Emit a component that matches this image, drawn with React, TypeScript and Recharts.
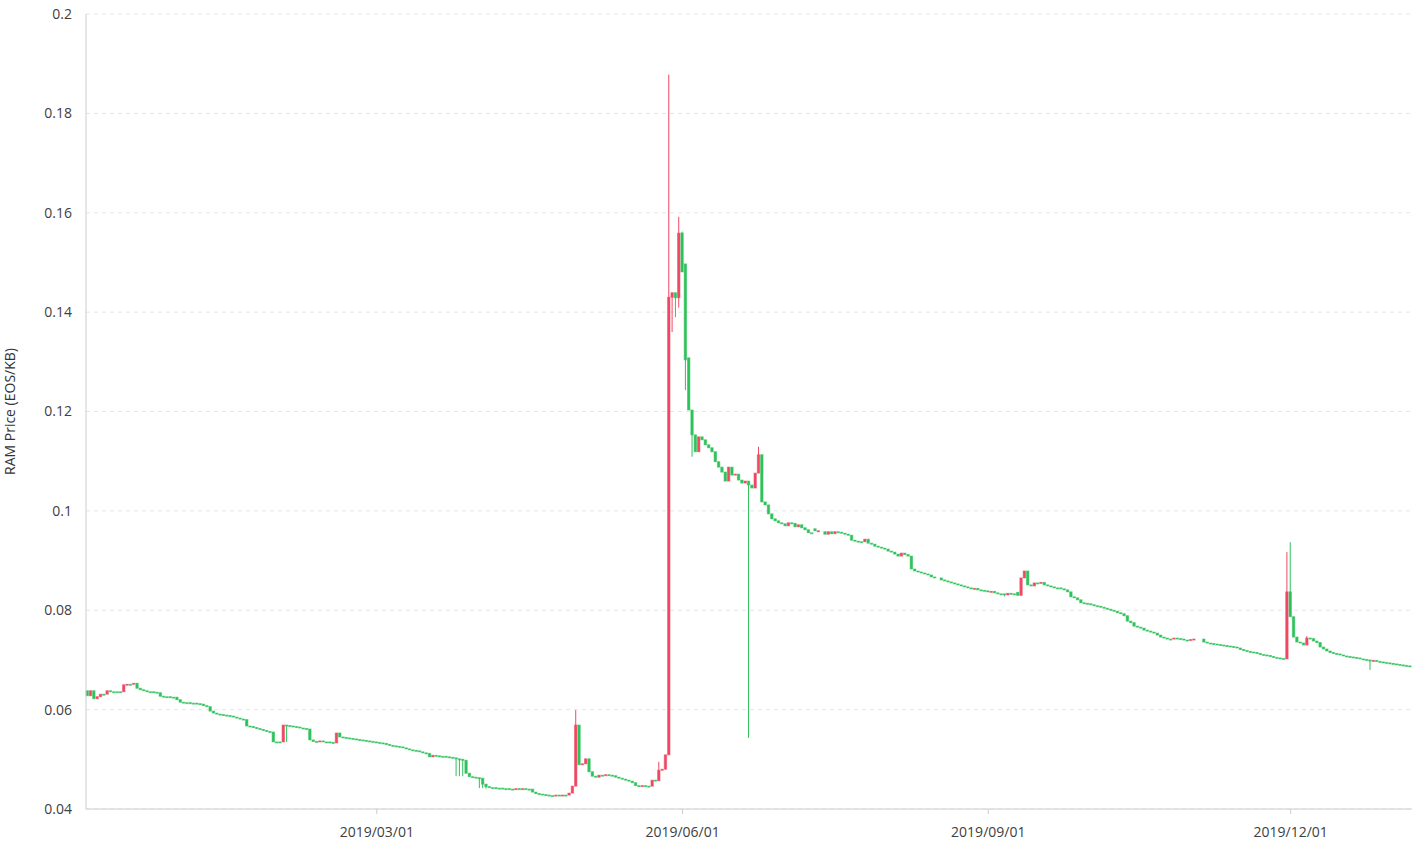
import { ComposedChart, Bar, XAxis, YAxis, CartesianGrid } from "recharts";

// daily closing RAM price (EOS/KB), one array per month, null = no candle that day
const dec2018 = [0.0628, 0.0638, 0.0622, 0.0626, 0.0631, 0.0631, 0.0638, 0.0636, 0.0636, 0.0636, 0.0636, 0.065, 0.0651, 0.0651, 0.0653, 0.0643, 0.064, 0.0638, 0.0636, 0.0636, 0.0635, 0.0634, 0.0627, 0.0626, 0.0626, 0.0625, 0.0625, 0.062];
const jan2019 = [0.0615, 0.0614, 0.0614, 0.0613, 0.0613, 0.0612, 0.0611, 0.0608, 0.0606, 0.0597, 0.0593, 0.0591, 0.059, 0.0589, 0.0588, 0.0587, 0.0585, 0.0583, 0.0581, 0.058, 0.0567, 0.0566, 0.0564, 0.0562, 0.056, 0.0558, 0.0556, 0.0555, 0.0535, 0.0535, 0.0535];
const feb2019 = [0.0569, 0.0568, 0.0567, 0.0566, 0.0565, 0.0563, 0.0562, 0.0561, 0.0539, 0.0536, 0.0535, 0.0537, 0.0535, 0.0535, 0.0534, 0.0533, 0.0553, 0.0545, 0.0544, 0.0543, 0.0542, 0.0541, 0.054, 0.0539, 0.0538, 0.0537, 0.0536, 0.0535];
const mar2019 = [0.0534, 0.0533, 0.0532, 0.053, 0.0528, 0.0527, 0.0526, 0.0525, 0.0523, 0.0521, 0.0519, 0.0518, 0.0517, 0.0515, 0.0513, 0.0512, 0.0505, 0.0508, 0.0507, 0.0506, 0.0506, 0.0505, 0.0504, 0.0503, 0.0501, 0.05, 0.0498, 0.0472, 0.0465, 0.0464, 0.0463];
const apr2019 = [0.0462, 0.045, 0.0445, 0.0443, 0.0443, 0.0442, 0.0442, 0.0441, 0.0441, 0.044, 0.0439, 0.0441, 0.044, 0.0441, 0.044, 0.044, 0.0434, 0.0431, 0.043, 0.0429, 0.0428, 0.0427, 0.0427, 0.0428, 0.0427, 0.0428, 0.0428, 0.0432, 0.0446, 0.0569];
const may2019 = [0.0489, 0.0491, 0.0501, 0.0475, 0.0466, 0.0464, 0.0468, 0.0468, 0.0469, 0.0468, 0.0467, 0.0464, 0.0462, 0.046, 0.0458, 0.0456, 0.0453, 0.0447, 0.0446, 0.0447, 0.0446, 0.0446, 0.0458, 0.0457, 0.0478, 0.048, 0.0509, 0.143, 0.1439, 0.1429, 0.1559];
const jun2019 = [0.1481, 0.1304, 0.1203, 0.1153, 0.1119, 0.1149, 0.1143, 0.1133, 0.1127, 0.1119, 0.1099, 0.1088, 0.1078, 0.106, 0.1088, 0.1072, 0.1074, 0.1062, 0.1056, 0.106, 0.1052, 0.1046, 0.1076, 0.1113, 0.1018, 0.1012, 0.0994, 0.0984, 0.098, 0.0976];
const jul2019 = [0.0974, 0.097, 0.0976, 0.0975, 0.0968, 0.0972, 0.0966, 0.0962, 0.0956, 0.0956, 0.096, 0.096, null, 0.0953, 0.0958, 0.0954, 0.0958, 0.0957, 0.0955, 0.0953, 0.0951, 0.0941, 0.0939, 0.0938, 0.0938, 0.0943, 0.0935, 0.0933, 0.0929, 0.0927, 0.0925];
const aug2019 = [0.0923, 0.0919, 0.0917, 0.0913, 0.0909, 0.0915, 0.0912, 0.0909, 0.0883, 0.0879, 0.0877, 0.0875, 0.0873, 0.0871, 0.0867, 0.0865, null, 0.0861, 0.0859, 0.0857, 0.0855, 0.0853, 0.0851, 0.0849, 0.0847, 0.0845, 0.0843, 0.0844, 0.0841, 0.084, 0.0839];
const sep2019 = [0.0837, 0.0838, 0.0835, 0.0833, 0.0833, 0.0831, 0.0834, 0.0833, 0.0832, 0.083, 0.0865, 0.0879, 0.0851, 0.0849, 0.0855, 0.0855, 0.0856, 0.0851, 0.0849, 0.0847, 0.0845, 0.0845, 0.0843, 0.0841, 0.0837, 0.0827, 0.0825, 0.0821, 0.0815, 0.0814];
const oct2019 = [0.0813, 0.0811, 0.0809, 0.0808, 0.0806, 0.0804, 0.0802, 0.08, 0.0798, 0.0795, 0.0793, 0.0789, 0.0778, 0.0775, 0.0768, 0.0766, 0.0764, 0.076, 0.0758, 0.0756, 0.0754, 0.075, 0.0746, 0.0744, 0.0742, 0.0742, 0.0744, 0.0743, 0.0742, 0.074, 0.074];
const nov2019 = [0.0741, 0.0742, null, null, 0.0736, 0.0734, 0.0733, 0.0732, 0.0731, 0.073, 0.0729, 0.0728, 0.0727, 0.0726, 0.0724, 0.0721, 0.0719, 0.0717, 0.0716, 0.0715, 0.0713, 0.0711, 0.071, 0.0709, 0.0707, 0.0705, 0.0704, 0.0703, 0.0702, 0.0837];
const dec2019 = [0.0787, 0.0746, 0.0736, 0.0734, 0.073, 0.0744, 0.0743, 0.0738, 0.0735, 0.0726, 0.0722, 0.0718, 0.0715, 0.0713, 0.0712, 0.071, 0.0708, 0.0707, 0.0706, 0.0705, 0.0704, 0.0702, 0.0701, 0.07, 0.0698, 0.0699, 0.0697, 0.0696, 0.0695, 0.0694, 0.0693];
const jan2020 = [0.0692, 0.0691, 0.069, 0.0689, 0.0688, 0.0687];

const months: { key: string; first: number; closes: (number | null)[] }[] = [
  { key: "2018-12", first: 4, closes: dec2018 },
  { key: "2019-01", first: 1, closes: jan2019 },
  { key: "2019-02", first: 1, closes: feb2019 },
  { key: "2019-03", first: 1, closes: mar2019 },
  { key: "2019-04", first: 1, closes: apr2019 },
  { key: "2019-05", first: 1, closes: may2019 },
  { key: "2019-06", first: 1, closes: jun2019 },
  { key: "2019-07", first: 1, closes: jul2019 },
  { key: "2019-08", first: 1, closes: aug2019 },
  { key: "2019-09", first: 1, closes: sep2019 },
  { key: "2019-10", first: 1, closes: oct2019 },
  { key: "2019-11", first: 1, closes: nov2019 },
  { key: "2019-12", first: 1, closes: dec2019 },
  { key: "2020-01", first: 1, closes: jan2020 },
];

// opens that did not start at the previous close
const opens: [string, number][] = [
  ["2018-12-04", 0.0638],
  ["2019-06-02", 0.1497],
  ["2019-06-03", 0.1308],
  ["2019-07-11", 0.0964],
  ["2019-07-12", 0.0958],
  ["2019-07-14", 0.0958],
  ["2019-09-10", 0.0836],
];

// wicks beyond the body
const highs: [string, number][] = [
  ["2019-04-30", 0.0599],
  ["2019-05-25", 0.0495],
  ["2019-05-28", 0.1878],
  ["2019-05-31", 0.1592],
  ["2019-06-01", 0.1562],
  ["2019-06-24", 0.1129],
  ["2019-11-30", 0.0917],
  ["2019-12-01", 0.0937],
  ["2019-12-06", 0.0748],
];

const lows: [string, number][] = [
  ["2019-02-02", 0.0535],
  ["2019-03-25", 0.0466],
  ["2019-03-26", 0.0466],
  ["2019-03-27", 0.0466],
  ["2019-04-01", 0.0442],
  ["2019-04-02", 0.0442],
  ["2019-04-03", 0.0441],
  ["2019-05-29", 0.136],
  ["2019-05-30", 0.139],
  ["2019-05-31", 0.1409],
  ["2019-06-02", 0.1243],
  ["2019-06-04", 0.1109],
  ["2019-06-21", 0.0543],
  ["2019-09-06", 0.0828],
  ["2019-12-25", 0.068],
];

const tickLabels = ["2019/03/01", "2019/06/01", "2019/09/01", "2019/12/01"];
const yTicks = [0.04, 0.06, 0.08, 0.1, 0.12, 0.14, 0.16, 0.18, 0.2];

const RED = "#f04864";
const GREEN = "#2fc25b";
const START = Date.UTC(2018, 11, 4);
const DAY = 86400000;

const dayIndex = (s: string) => {
  const [y, m, d] = s.split(/[-/]/).map(Number);
  return Math.round((Date.UTC(y, m - 1, d) - START) / DAY);
};

const tickValues = tickLabels.map(dayIndex);

function buildRows() {
  const openMap = new Map(opens);
  const highMap = new Map(highs);
  const lowMap = new Map(lows);
  const rows: any[] = [];
  let prev: number | null = null;
  for (const m of months) {
    m.closes.forEach((close, k) => {
      const date = `${m.key}-${String(m.first + k).padStart(2, "0")}`;
      if (close === null) return;
      const open = openMap.get(date) ?? prev ?? close;
      const high = Math.max(open, close, highMap.get(date) ?? 0);
      const low = Math.min(open, close, lowMap.get(date) ?? Infinity);
      rows.push({ t: dayIndex(date), date, open, close, high, low, range: [low, high] });
      prev = close;
    });
  }
  return rows;
}

const rows = buildRows();

const Candle = (props: any) => {
  const { x, y, width, height, payload } = props;
  if (!payload) return null;
  const { open, close, high, low } = payload;
  const span = high - low;
  const py = (v: number) => (span > 0 ? y + ((high - v) / span) * height : y);
  const color = close > open ? RED : GREEN;
  const top = py(Math.max(open, close));
  const bottom = py(Math.min(open, close));
  const cx = x + width / 2;
  return (
    <g>
      <line x1={cx} x2={cx} y1={y} y2={y + height} stroke={color} strokeWidth={1} />
      <rect
        x={x}
        y={top}
        width={width}
        height={Math.max(bottom - top, 1)}
        fill={color}
        stroke={color}
        strokeOpacity={0.55}
        strokeWidth={1}
      />
    </g>
  );
};

const font = { fontFamily: "'Open Sans', sans-serif", fontSize: 14, fill: "#404040" };

export default function App() {
  return (
    <div style={{ position: "absolute", left: 0, top: 0, background: "#fff" }}>
      <ComposedChart width={1426} height={853} data={rows} margin={{ top: 14, right: 14, bottom: 14, left: 0 }}>
        <CartesianGrid vertical={false} stroke="#e6e6e6" strokeDasharray="4 4" />
        <XAxis
          dataKey="t"
          type="number"
          domain={[-0.5, 398.5]}
          ticks={tickValues}
          tickFormatter={(v: number) => tickLabels[tickValues.indexOf(v)] ?? ""}
          height={30}
          stroke="#cccccc"
          tickSize={5}
          tickMargin={13}
          tick={font}
        />
        <YAxis
          type="number"
          domain={[0.04, 0.2]}
          ticks={yTicks}
          interval={0}
          width={86}
          stroke="#cccccc"
          tickLine={false}
          tickSize={6}
          tickMargin={8}
          tick={font}
          label={{
            value: "RAM Price (EOS/KB)",
            angle: -90,
            position: "insideLeft",
            offset: 10,
            style: { ...font, fill: "#333", textAnchor: "middle" },
          }}
        />
        <Bar dataKey="range" barSize={2.4} shape={Candle} isAnimationActive={false} />
      </ComposedChart>
    </div>
  );
}
